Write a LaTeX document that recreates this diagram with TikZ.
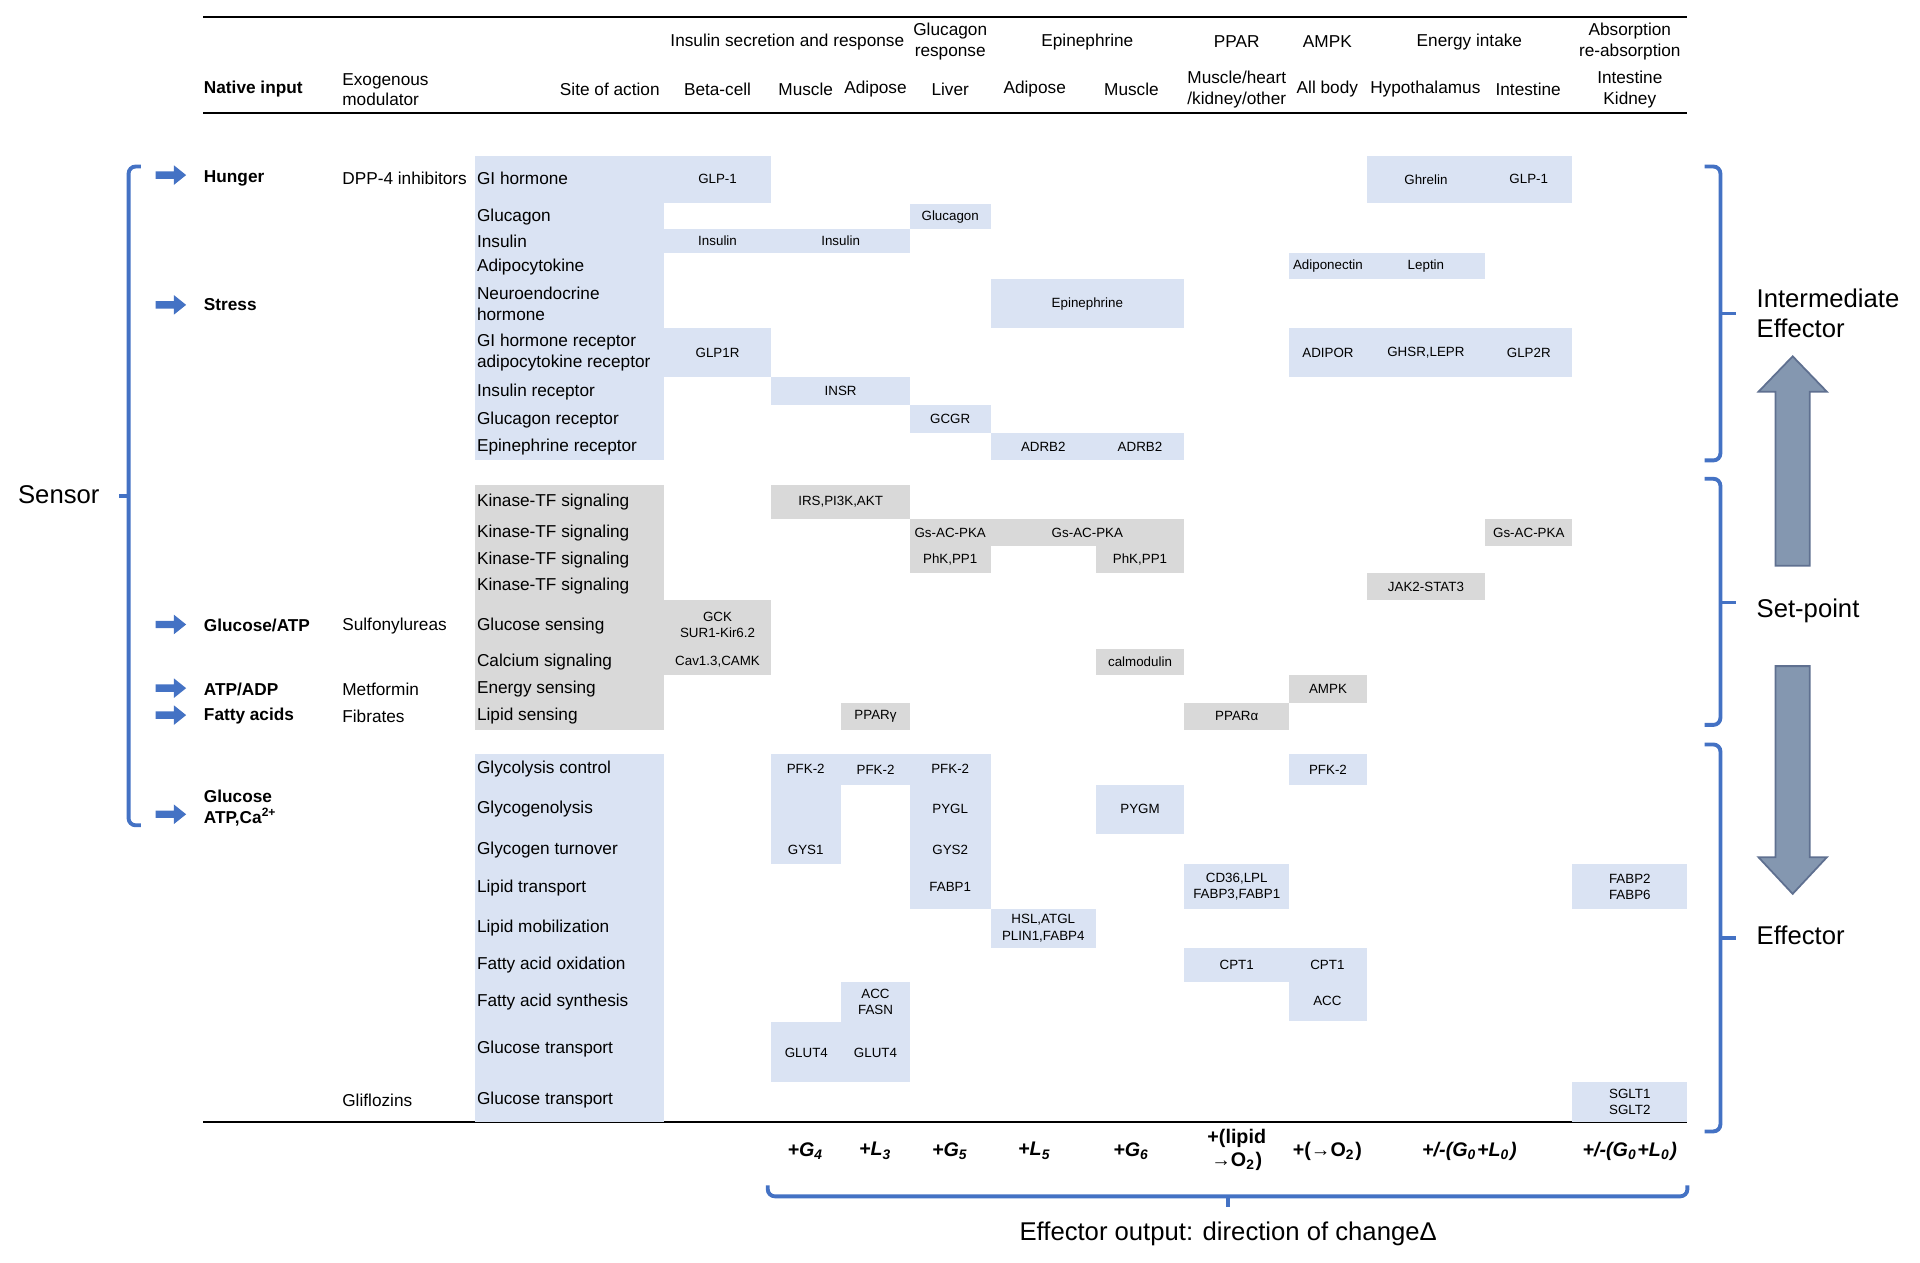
\documentclass[tikz,border=0pt]{standalone}
\usepackage{fontspec}
\setmainfont{Liberation Sans}
\usetikzlibrary{positioning,calc}
\definecolor{CellBlue}{RGB}{218,227,243}
\definecolor{CellGray}{RGB}{217,217,217}
\definecolor{BraceBlue}{RGB}{68,114,196}
\definecolor{BigArrow}{RGB}{132,151,176}
\definecolor{BigArrowLine}{RGB}{95,112,144}
% one coloured cell with its label
\def\cellbox#1#2#3#4#5#6{
  \fill[#6] (#1,#3) rectangle (#2,#4);
  \node[cell] at ({(#1+#2)/2},{(#3+#4)/2}) {#5};
}
% small blue arrow in front of a native input
\def\sensorarrow#1{
  \fill[BraceBlue] (127,#1-3) -- (142,#1-3) -- (142,#1-8) -- (152,#1) -- (142,#1+8) -- (142,#1+3) -- (127,#1+3) -- cycle;
}
\begin{document}
\begin{tikzpicture}[x=0.012245cm,y=-0.012245cm,
  txt/.style={font=\fontsize{4.9}{5.8}\selectfont,inner sep=0pt,align=left},
  head/.style={font=\fontsize{4.9}{5.8}\selectfont,inner sep=0pt,align=center},
  site/.style={txt,anchor=west},
  cell/.style={font=\fontsize{3.8}{4.6}\selectfont,inner sep=0pt,align=center},
  big/.style={font=\fontsize{7.3}{8.6}\selectfont,inner sep=0pt,align=left},
  outp/.style={font=\fontsize{5.6}{6.2}\selectfont\bfseries\itshape,inner sep=0pt,align=center},
  brace/.style={BraceBlue,line width=1.1pt,rounded corners=2pt},
  bigarrow/.style={fill=BigArrow,draw=BigArrowLine,line width=0.5pt}]
\useasboundingbox (0,0) rectangle (1568,1031);

% rules
\draw[line width=0.6pt] (166,14) -- (1378,14);
\draw[line width=0.6pt] (166,92) -- (1378,92);
\draw[line width=0.6pt] (166,916) -- (1378,916);

% header
\node[head] (hIns) at (643,34) {Insulin secretion and response};
\node[head] (hGlc) at (776,34) {Glucagon\\response};
\node[head] (hEpi) at (888,34) {Epinephrine};
\node[head] (hPpar) at (1010,34) {PPAR};
\node[head] (hAmpk) at (1084,34) {AMPK};
\node[head] (hEn) at (1200,34) {Energy intake};
\node[head] (hAbs) at (1331,34) {Absorption\\re-absorption};
\node[txt,anchor=west,font=\fontsize{4.9}{5.8}\selectfont\bfseries] (hNat) at (166,73) {Native input};
\node[txt,anchor=west] (hExo) at (279,73) {Exogenous\\modulator};
\node[head] (hSite) at (498,73) {Site of action};
\node[head] (hBeta) at (586,73) {Beta-cell};
\node[head] (hMus) at (658,73) {Muscle};
\node[head] (hAdi) at (715,73) {Adipose};
\node[head] (hLiv) at (776,73) {Liver};
\node[head] (hAdiE) at (845,73) {Adipose};
\node[head] (hMusE) at (924,73) {Muscle};
\node[head] (hMhk) at (1010,73) {Muscle/heart\\/kidney/other};
\node[head] (hAll) at (1084,73) {All body};
\node[head] (hHyp) at (1164,73) {Hypothalamus};
\node[head] (hInt) at (1248,73) {Intestine};
\node[head] (hIK) at (1331,73) {Intestine\\Kidney};

% site of action column
\fill[CellBlue] (388,127) rectangle (542,376);
\fill[CellGray] (388,396) rectangle (542,596);
\fill[CellBlue] (388,616) rectangle (542,916);
\foreach \y/\t [count=\i] in {146/GI hormone, 177/Glucagon, 197/Insulin, 218/Adipocytokine,
  248/{Neuroendocrine\\hormone}, 288/{GI hormone receptor\\adipocytokine receptor},
  320/Insulin receptor, 343/Glucagon receptor, 365/Epinephrine receptor,
  410/Kinase-TF signaling, 435/Kinase-TF signaling, 457/Kinase-TF signaling, 479/Kinase-TF signaling,
  511/Glucose sensing, 541/Calcium signaling, 563/Energy sensing, 585/Lipid sensing,
  628/Glycolysis control, 661/Glycogenolysis, 694/Glycogen turnover, 725/Lipid transport,
  758/Lipid mobilization, 788/Fatty acid oxidation, 818/Fatty acid synthesis,
  857/Glucose transport, 898/Glucose transport}
  \node[site] (site\i) at (389,\y) {\t};

% intermediate effectors
\cellbox{542}{630}{127}{166}{GLP-1}{CellBlue}
\cellbox{1116}{1213}{127}{166}{Ghrelin}{CellBlue}
\cellbox{1213}{1284}{127}{166}{GLP-1}{CellBlue}
\cellbox{743}{809}{167}{187}{Glucagon}{CellBlue}
\cellbox{542}{630}{187}{207}{Insulin}{CellBlue}
\cellbox{630}{743}{187}{207}{Insulin}{CellBlue}
\cellbox{1053}{1116}{207}{228}{Adiponectin}{CellBlue}
\cellbox{1116}{1213}{207}{228}{Leptin}{CellBlue}
\cellbox{809}{967}{228}{268}{Epinephrine}{CellBlue}
\cellbox{542}{630}{268}{308}{GLP1R}{CellBlue}
\cellbox{1053}{1116}{268}{308}{ADIPOR}{CellBlue}
\cellbox{1116}{1213}{268}{308}{GHSR,LEPR}{CellBlue}
\cellbox{1213}{1284}{268}{308}{GLP2R}{CellBlue}
\cellbox{630}{743}{308}{331}{INSR}{CellBlue}
\cellbox{743}{809}{331}{354}{GCGR}{CellBlue}
\cellbox{809}{895}{354}{376}{ADRB2}{CellBlue}
\cellbox{895}{967}{354}{376}{ADRB2}{CellBlue}

% set-point
\cellbox{630}{743}{396}{424}{IRS,PI3K,AKT}{CellGray}
\cellbox{743}{809}{424}{446}{Gs-AC-PKA}{CellGray}
\cellbox{809}{967}{424}{446}{Gs-AC-PKA}{CellGray}
\cellbox{1213}{1284}{424}{446}{Gs-AC-PKA}{CellGray}
\cellbox{743}{809}{446}{468}{PhK,PP1}{CellGray}
\cellbox{895}{967}{446}{468}{PhK,PP1}{CellGray}
\cellbox{1116}{1213}{468}{490}{JAK2-STAT3}{CellGray}
\cellbox{542}{630}{490}{530}{GCK\\SUR1-Kir6.2}{CellGray}
\cellbox{542}{630}{530}{551}{Cav1.3,CAMK}{CellGray}
\cellbox{895}{967}{530}{551}{calmodulin}{CellGray}
\cellbox{1053}{1116}{551}{574}{AMPK}{CellGray}
\cellbox{687}{743}{574}{596}{PPARγ}{CellGray}
\cellbox{967}{1053}{574}{596}{PPARα}{CellGray}

% effectors
\fill[CellBlue] (630,616) rectangle (687,706);
\node[cell] (mPfk) at (658,628) {PFK-2};
\node[cell] (mGys) at (658,694) {GYS1};
\cellbox{687}{743}{616}{641}{PFK-2}{CellBlue}
\fill[CellBlue] (743,616) rectangle (809,742);
\node[cell] (lPfk) at (776,628) {PFK-2};
\node[cell] (lPyg) at (776,661) {PYGL};
\node[cell] (lGys) at (776,694) {GYS2};
\node[cell] (lFab) at (776,724) {FABP1};
\cellbox{1053}{1116}{616}{641}{PFK-2}{CellBlue}
\cellbox{895}{967}{641}{681}{PYGM}{CellBlue}
\cellbox{967}{1053}{706}{742}{CD36,LPL\\FABP3,FABP1}{CellBlue}
\cellbox{1284}{1378}{706}{742}{FABP2\\FABP6}{CellBlue}
\cellbox{809}{895}{742}{774}{HSL,ATGL\\PLIN1,FABP4}{CellBlue}
\cellbox{967}{1053}{774}{802}{CPT1}{CellBlue}
\fill[CellBlue] (1053,774) rectangle (1116,834);
\node[cell] (aCpt) at (1084,788) {CPT1};
\node[cell] (aAcc) at (1084,817) {ACC};
\cellbox{687}{743}{802}{835}{ACC\\FASN}{CellBlue}
\cellbox{630}{687}{835}{884}{GLUT4}{CellBlue}
\cellbox{687}{743}{835}{884}{GLUT4}{CellBlue}
\cellbox{1284}{1378}{884}{916}{SGLT1\\SGLT2}{CellBlue}

% native inputs and modulators
\tikzset{nat/.style={txt,anchor=west,font=\fontsize{4.9}{5.8}\selectfont\bfseries}}
\node[nat] (nHun) at (166,146) {Hunger};
\node[nat] (nStr) at (166,249) {Stress};
\node[nat] (nGlu) at (166,511) {Glucose/ATP};
\node[nat] (nAtp) at (166,563) {ATP/ADP};
\node[nat] (nFat) at (166,585) {Fatty acids};
\node[nat] (nCa) at (166,660) {Glucose\\ATP,Ca\textsuperscript{2+}};
\node[txt,anchor=west] (xDpp) at (279,146) {DPP-4 inhibitors};
\node[txt,anchor=west] (xSul) at (279,511) {Sulfonylureas};
\node[txt,anchor=west] (xMet) at (279,563) {Metformin};
\node[txt,anchor=west] (xFib) at (279,585) {Fibrates};
\node[txt,anchor=west] (xGli) at (279,899) {Gliflozins};
\foreach \y in {143,249,510,562,584,665}{\sensorarrow{\y}}

% left brace
\draw[brace] (115,136) -- (105,136) -- (105,674) -- (115,674);
\draw[brace] (105,405) -- (97,405);
\node[big] (sensor) at (48,404) {Sensor};

% right braces
\draw[brace] (1392,136) -- (1405,136) -- (1405,376) -- (1392,376);
\draw[brace] (1405,256) -- (1418,256);
\draw[brace] (1392,391) -- (1405,391) -- (1405,592) -- (1392,592);
\draw[brace] (1405,492) -- (1418,492);
\draw[brace] (1392,608) -- (1405,608) -- (1405,924) -- (1392,924);
\draw[brace] (1405,766) -- (1418,766);
\node[big,anchor=west] (inter) at (1434,256) {Intermediate\\Effector};
\node[big,anchor=west] (setp) at (1434,499) {Set-point};
\node[big,anchor=west] (effe) at (1434,764) {Effector};

% big arrows
\draw[bigarrow] (1450,462) -- (1450,320) -- (1436,320) -- (1464,291) -- (1492,320) -- (1478,320) -- (1478,462) -- cycle;
\draw[bigarrow] (1450,544) -- (1450,700) -- (1436,700) -- (1464,730) -- (1492,700) -- (1478,700) -- (1478,544) -- cycle;

% effector output
\node[outp] (oG4) at (658,940) {+G\textsubscript{4}};
\node[outp] (oL3) at (715,940) {+L\textsubscript{3}};
\node[outp] (oG5) at (776,940) {+G\textsubscript{5}};
\node[outp] (oL5) at (845,940) {+L\textsubscript{5}};
\node[outp] (oG6) at (924,940) {+G\textsubscript{6}};
\node[outp,font=\fontsize{5.6}{6.4}\selectfont\bfseries] (oLip) at (1010,939) {+(lipid\\→O\textsubscript{2})};
\node[outp,font=\fontsize{5.6}{6.4}\selectfont\bfseries] (oO2) at (1084,940) {+(→O\textsubscript{2})};
\node[outp] (oGL1) at (1200,940) {+/-(G\textsubscript{0}+L\textsubscript{0})};
\node[outp] (oGL2) at (1331,940) {+/-(G\textsubscript{0}+L\textsubscript{0})};
\draw[brace] (627,968) -- (627,977) -- (1378,977) -- (1378,968);
\draw[brace] (1003,977) -- (1003,986);
\node[big,anchor=center] (outlab) at (1003,1008) {Effector output: direction of changeΔ};
\end{tikzpicture}
\end{document}
